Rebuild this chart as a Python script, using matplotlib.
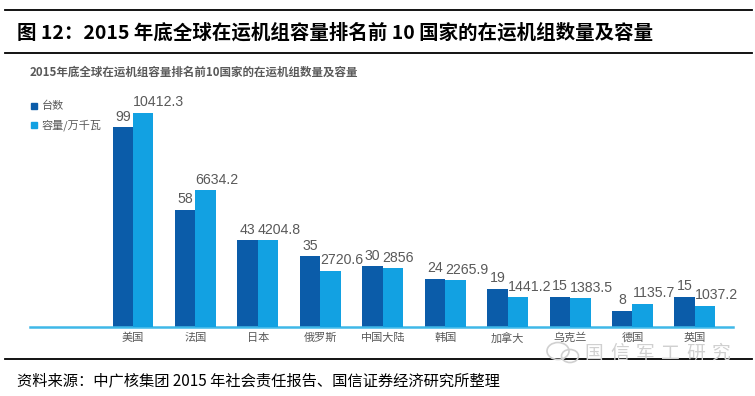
import matplotlib.pyplot as plt
from matplotlib.patches import Rectangle, Ellipse
from matplotlib.lines import Line2D

plt.rcParams['font.family'] = ['Noto Sans CJK SC', 'DejaVu Sans']

# 数据
countries = ['美国', '法国', '日本', '俄罗斯', '中国大陆', '韩国', '加拿大', '乌克兰', '德国', '英国']
units = [99, 58, 43, 35, 30, 24, 19, 15, 8, 15]
capacity = [10412.3, 6634.2, 4204.8, 2720.6, 2856, 2265.9, 1441.2, 1383.5, 1135.7, 1037.2]

dark = '#0b5ca9'
light = '#12a1e2'
gray = '#595959'
num_font = ['Liberation Sans Narrow', 'Liberation Sans', 'DejaVu Sans']

W, H = 755, 396
fig = plt.figure(figsize=(W / 100, H / 100), dpi=100)


def fx(x):
    return x / W


def fy(y):
    return 1 - y / H


# 顶部和底部的黑线
for y in (10, 53, 359):
    fig.add_artist(Line2D([fx(5), fx(752)], [fy(y), fy(y)], color='black', lw=1.3,
                          transform=fig.transFigure, zorder=1))

fig.text(fx(17), fy(33), '图 12：2015 年底全球在运机组容量排名前 10 国家的在运机组数量及容量',
         fontsize=14, fontweight='bold', va='center', ha='left', color='black')
fig.text(fx(30), fy(72), '2015年底全球在运机组容量排名前10国家的在运机组数量及容量',
         fontsize=8.3, fontweight='bold', va='center', ha='left', color=gray)

# 图例
for y, c, lab in [(106, dark, '台数'), (125, light, '容量/万千瓦')]:
    fig.add_artist(Rectangle((fx(31), fy(y + 3)), 6 / W, 6 / H, color=c,
                             transform=fig.transFigure))
    fig.text(fx(42), fy(y), lab, fontsize=8, va='center', ha='left', color=gray)

# 主图
ax = fig.add_axes([fx(30), fy(327), fx(733) - fx(30), (327 - 100) / H])
ax2 = ax.twinx()
w = 0.328
x = list(range(len(countries)))

ax.bar([i - w / 2 for i in x], units, width=w, color=dark, zorder=2)
ax2.bar([i + w / 2 for i in x], capacity, width=w, color=light, zorder=2)

ax.set_xlim(-1.65, 9.61)
ax.set_ylim(0, 227 / 2.02)
ax2.set_ylim(0, 227 / 0.0206)

for i, v in enumerate(units):
    ax.annotate(str(v), (i - w / 2, v), xytext=(0, 2.5), textcoords='offset points',
                ha='center', va='bottom', fontsize=10.2, color=gray, family=num_font)
for i, v in enumerate(capacity):
    ax2.annotate(f'{v:g}', (i, v), xytext=(0, 2.5), textcoords='offset points',
                 ha='left', va='bottom', fontsize=10.2, color=gray, family=num_font)

ax.axhline(0, color='#3fb8e8', lw=1.8, zorder=3, clip_on=False)

ax.set_xticks(x)
ax.set_xticklabels(countries, fontsize=8, color=gray)
ax.tick_params(axis='x', length=0, pad=4)
for a in (ax, ax2):
    a.set_yticks([])
    for s in a.spines.values():
        s.set_visible(False)
    a.patch.set_visible(False)

# 水印
wm = '#d0d0d0'
for k, ch in enumerate('国信军工研究'):
    fig.text(fx(594 + 25.5 * k), fy(353), ch, fontsize=13.5, color=wm, va='center',
             ha='center', zorder=3)
fig.add_artist(Ellipse((fx(558), fy(351)), 22 / W, 17 / H, fill=False, ec=wm, lw=1.2,
                       transform=fig.transFigure, zorder=3))
fig.add_artist(Ellipse((fx(570), fy(356)), 17 / W, 13 / H, fill=False, ec=wm, lw=1.2,
                       transform=fig.transFigure, zorder=3))

fig.text(fx(17), fy(381), '资料来源：中广核集团 2015 年社会责任报告、国信证券经济研究所整理',
         fontsize=11, va='center', ha='left', color='black')

fig.savefig('out.png', dpi=100)
